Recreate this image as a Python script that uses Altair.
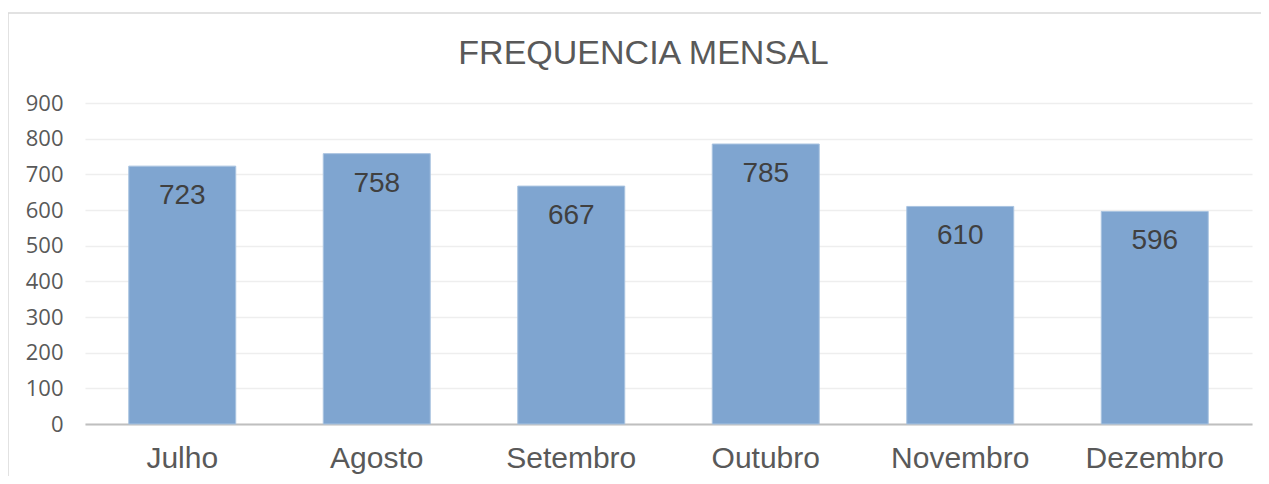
import altair as alt
import pandas as pd

meses = ["Julho", "Agosto", "Setembro", "Outubro", "Novembro", "Dezembro"]
frequencia = [723, 758, 667, 785, 610, 596]
y_ticks = [0, 100, 200, 300, 400, 500, 600, 700, 800, 900]
titulo = "FREQUENCIA MENSAL"

df = pd.DataFrame({"mes": meses, "freq": frequencia})

W, H = 1167, 321

x_enc = alt.X(
    "mes:N",
    sort=meses,
    title=None,
    scale=alt.Scale(paddingInner=0.45, paddingOuter=0.225),
    axis=alt.Axis(
        labelAngle=0,
        labelFont="Liberation Sans",
        labelFontSize=30,
        labelColor="#595959",
        labelPadding=19,
        ticks=False,
        domainColor="#BFBFBF",
        domainWidth=2,
        grid=False,
    ),
)
y_enc = alt.Y(
    "freq:Q",
    title=None,
    scale=alt.Scale(domain=[0, 900], nice=False),
    axis=alt.Axis(
        values=y_ticks,
        tickCount=10,
        labelOverlap=False,
        labelFont="Open Sans",
        labelFontSize=22,
        labelColor="#595959",
        labelPadding=22,
        ticks=False,
        domain=False,
        gridColor="#EEEEEE",
        gridWidth=1.5,
    ),
)

border = alt.Chart(alt.Data(values=[{"a": 1}])).mark_rect(
    fill=None, stroke="#D9D9D9", strokeWidth=1.5
).encode(
    x=alt.value(-77), x2=alt.value(W + 40),
    y=alt.value(-90), y2=alt.value(H + 100),
)

title = alt.Chart(alt.Data(values=[{"t": titulo}])).mark_text(
    font="Liberation Sans", fontSize=34, color="#595959", baseline="middle", align="center"
).encode(
    x=alt.value(W / 2 - 25), y=alt.value(-49), text="t:N"
)

bars = alt.Chart(df).mark_bar(color="#7FA5D0", stroke="#A9C3E0", strokeWidth=1).encode(
    x=x_enc, y=y_enc
)

labels = alt.Chart(df).mark_text(
    font="Liberation Sans", fontSize=28, color="#404040", baseline="middle", dy=30
).encode(
    x=x_enc,
    y=y_enc,
    text=alt.Text("freq:Q"),
)

chart = alt.layer(border, title, bars, labels).properties(
    width=W,
    height=H,
    padding={"left": 77, "top": 95, "right": 9, "bottom": 52},
    autosize=alt.AutoSizeParams(type="none"),
).configure_view(stroke=None)

chart.save("out.html", embed_options={"renderer": "svg", "actions": False})
